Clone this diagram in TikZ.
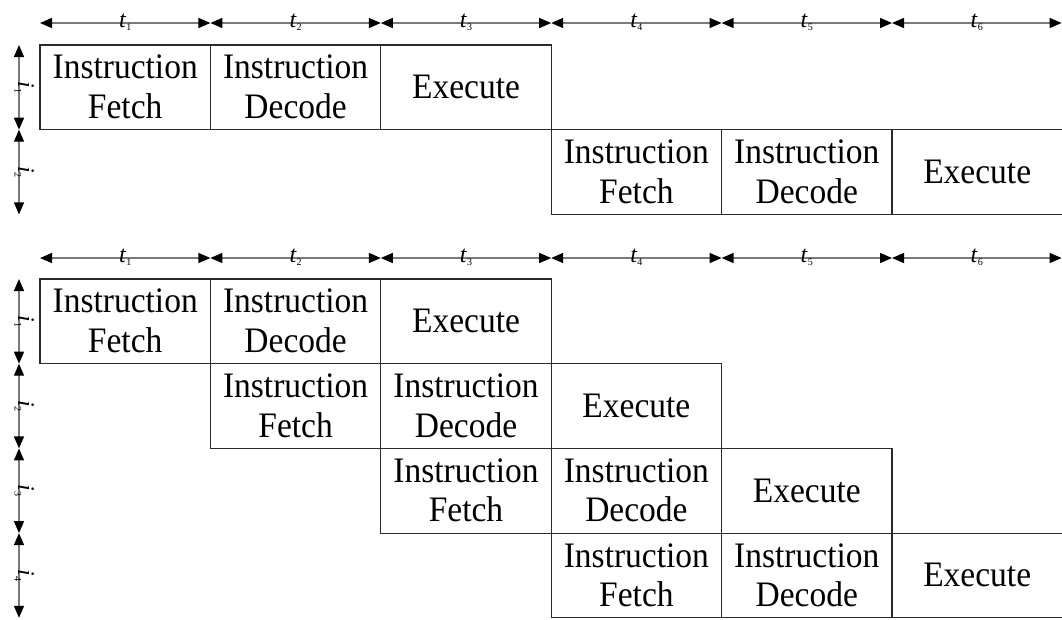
\documentclass[tikz,border=0pt]{standalone}
\usepackage{fontspec}
\setmainfont{Liberation Serif}
\usetikzlibrary{arrows.meta,calc}
\definecolor{boxc}{HTML}{2A2A2A}
\definecolor{linec}{HTML}{7A7A7A}
\newcommand{\sublab}[2]{\textit{#1}{\upshape\fontsize{10}{10}\selectfont\raisebox{-3.5pt}{#2}}}
% stage caption, set slightly taller than wide and sitting a little low
\newcommand{\stg}[1]{\raisebox{-3.5pt}[\height][\depth]{\scalebox{1}[1.07]{\begin{tabular}{@{}c@{}}#1\end{tabular}}}}
\tikzset{
  stage/.style={draw=boxc, line width=1.1pt, minimum width=170.4pt,
    minimum height=84.7pt, inner sep=0pt,
    font=\fontsize{33.5}{37}\selectfont},
  span/.style={draw=linec, line width=1.4pt,
    {Triangle[length=12pt,width=10pt,color=black]}-{Triangle[length=12pt,width=10pt,color=black]}},
  tlab/.style={font=\fontsize{24}{24}\selectfont, anchor=base, inner sep=0pt},
  ilab/.style={font=\fontsize{24}{24}\selectfont, anchor=base, inner sep=0pt, rotate=-90},
}
\begin{document}
\begin{tikzpicture}[x=1pt, y=-1pt]
\useasboundingbox (0,0) rectangle (1062,619);
\clip (0,0) rectangle (1062,619);

% ---- time axis coordinates ----
\foreach \k/\x in {0/40,1/210.4,2/380.8,3/551.2,4/721.6,5/892,6/1061.6} {
  \coordinate (ta\k) at (\x,23);
  \coordinate (tb\k) at (\x,258);
}
\foreach \k/\y in {0/45,1/129.7,2/214.4} {\coordinate (va\k) at (19,\y);}
\foreach \k/\y in {0/279,1/363.7,2/448.4,3/533.1,4/617.8} {\coordinate (vb\k) at (19,\y);}

% ---- sequential execution ----
\node[stage] (a11) at (125.2,87.35) {\stg{Instruction\\Fetch}};
\node[stage] (a12) at (295.6,87.35) {\stg{Instruction\\Decode}};
\node[stage] (a13) at (466.0,87.35) {\stg{Execute}};
\node[stage] (a21) at (636.4,172.05) {\stg{Instruction\\Fetch}};
\node[stage] (a22) at (806.8,172.05) {\stg{Instruction\\Decode}};
\node[stage] (a23) at (977.2,172.05) {\stg{Execute}};

% ---- pipelined execution ----
\node[stage] (b11) at (125.2,321.35) {\stg{Instruction\\Fetch}};
\node[stage] (b12) at (295.6,321.35) {\stg{Instruction\\Decode}};
\node[stage] (b13) at (466.0,321.35) {\stg{Execute}};
\node[stage] (b21) at (295.6,406.05) {\stg{Instruction\\Fetch}};
\node[stage] (b22) at (466.0,406.05) {\stg{Instruction\\Decode}};
\node[stage] (b23) at (636.4,406.05) {\stg{Execute}};
\node[stage] (b31) at (466.0,490.75) {\stg{Instruction\\Fetch}};
\node[stage] (b32) at (636.4,490.75) {\stg{Instruction\\Decode}};
\node[stage] (b33) at (806.8,490.75) {\stg{Execute}};
\node[stage] (b41) at (636.4,575.45) {\stg{Instruction\\Fetch}};
\node[stage] (b42) at (806.8,575.45) {\stg{Instruction\\Decode}};
\node[stage] (b43) at (977.2,575.45) {\stg{Execute}};

% ---- time spans ----
\foreach \k [count=\n from 1] in {0,...,5} {
  \draw[span] (ta\k) -- (ta\n);
  \draw[span] (tb\k) -- (tb\n);
  \node[tlab] (tla\n) at ($(ta\k)!0.5!(ta\n)+(0,4)$) {\sublab{t}{\n}};
  \node[tlab] (tlb\n) at ($(tb\k)!0.5!(tb\n)+(0,4)$) {\sublab{t}{\n}};
}

% ---- instruction spans ----
\foreach \k [count=\n from 1] in {0,1} {
  \draw[span] (va\k) -- (va\n);
  \node[ilab] (ila\n) at ($(va\k)!0.5!(va\n)+(-1,0)$) {\sublab{i}{\n}};
}
\foreach \k [count=\n from 1] in {0,...,3} {
  \draw[span] (vb\k) -- (vb\n);
  \node[ilab] (ilb\n) at ($(vb\k)!0.5!(vb\n)+(-1,0)$) {\sublab{i}{\n}};
}
\end{tikzpicture}
\end{document}
